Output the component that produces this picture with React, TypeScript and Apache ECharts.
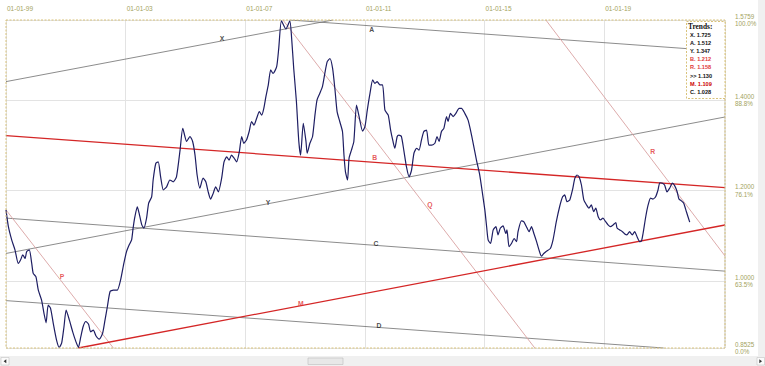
import React, { useEffect, useRef } from 'react';
import * as echarts from 'echarts';

const X_MIN = 1999;
const X_MAX = 2023.04;
const Y_MIN = 0.8525;
const Y_MAX = 1.5759;

const xTickYears = [1999, 2003, 2007, 2011, 2015, 2019];
const xTickLabels = ['01-01-99', '01-01-03', '01-01-07', '01-01-11', '01-01-15', '01-01-19'];
const yTickValues = [0.8525, 1.0, 1.2, 1.4, 1.5759];
const yTickPercents = ['0.0%', '63.5%', '76.1%', '88.8%', '100.0%'];

const pricePoints: number[][] = [
  [1999.00, 1.157], [1999.08, 1.120], [1999.19, 1.091], [1999.30, 1.069], [1999.41, 1.039],
  [1999.49, 1.047], [1999.56, 1.058], [1999.64, 1.050], [1999.69, 1.065], [1999.78, 1.069],
  [1999.86, 1.039], [1999.91, 1.017], [2000.00, 1.010], [2000.08, 0.980], [2000.19, 0.958],
  [2000.27, 0.929], [2000.34, 0.908], [2000.41, 0.947], [2000.49, 0.940], [2000.58, 0.907],
  [2000.69, 0.870], [2000.78, 0.854], [2000.86, 0.863], [2000.94, 0.900], [2001.01, 0.936],
  [2001.12, 0.914], [2001.23, 0.888], [2001.34, 0.866], [2001.42, 0.854], [2001.50, 0.877],
  [2001.58, 0.900], [2001.67, 0.911], [2001.76, 0.905], [2001.83, 0.888], [2001.92, 0.892],
  [2002.01, 0.879], [2002.12, 0.872], [2002.23, 0.885], [2002.31, 0.914], [2002.39, 0.944],
  [2002.48, 0.977], [2002.59, 0.980], [2002.72, 0.980], [2002.83, 1.002], [2002.94, 1.039],
  [2003.03, 1.065], [2003.12, 1.080], [2003.20, 1.091], [2003.25, 1.117], [2003.31, 1.142],
  [2003.39, 1.164], [2003.45, 1.150], [2003.54, 1.124], [2003.61, 1.117], [2003.70, 1.139],
  [2003.77, 1.172], [2003.87, 1.186], [2003.92, 1.223], [2004.01, 1.260], [2004.09, 1.263],
  [2004.17, 1.230], [2004.26, 1.201], [2004.37, 1.208], [2004.48, 1.223], [2004.59, 1.219],
  [2004.70, 1.230], [2004.82, 1.289], [2004.91, 1.337], [2005.04, 1.308], [2005.15, 1.319],
  [2005.24, 1.308], [2005.32, 1.278], [2005.39, 1.234], [2005.48, 1.205], [2005.59, 1.227],
  [2005.68, 1.219], [2005.76, 1.197], [2005.84, 1.181], [2005.93, 1.194], [2006.01, 1.208],
  [2006.10, 1.197], [2006.21, 1.227], [2006.29, 1.263], [2006.38, 1.274], [2006.46, 1.267],
  [2006.54, 1.278], [2006.63, 1.271], [2006.71, 1.263], [2006.80, 1.285], [2006.88, 1.319],
  [2006.95, 1.304], [2007.04, 1.311], [2007.13, 1.330], [2007.21, 1.352], [2007.29, 1.344],
  [2007.38, 1.359], [2007.47, 1.374], [2007.55, 1.366], [2007.62, 1.381], [2007.69, 1.407],
  [2007.77, 1.433], [2007.85, 1.466], [2007.93, 1.458], [2008.05, 1.473], [2008.12, 1.514],
  [2008.21, 1.574], [2008.36, 1.556], [2008.49, 1.574], [2008.55, 1.536], [2008.62, 1.469],
  [2008.71, 1.396], [2008.79, 1.308], [2008.85, 1.278], [2008.94, 1.348], [2009.03, 1.308],
  [2009.07, 1.282], [2009.16, 1.304], [2009.25, 1.319], [2009.33, 1.366], [2009.40, 1.400],
  [2009.49, 1.414], [2009.58, 1.429], [2009.66, 1.458], [2009.74, 1.484], [2009.83, 1.491],
  [2009.92, 1.469], [2010.00, 1.422], [2010.07, 1.374], [2010.16, 1.352], [2010.25, 1.330],
  [2010.30, 1.278], [2010.35, 1.241], [2010.42, 1.223], [2010.47, 1.271], [2010.55, 1.289],
  [2010.63, 1.308], [2010.72, 1.388], [2010.83, 1.355], [2010.92, 1.331], [2011.00, 1.340],
  [2011.08, 1.377], [2011.17, 1.414], [2011.26, 1.444], [2011.33, 1.436], [2011.41, 1.440],
  [2011.50, 1.433], [2011.59, 1.433], [2011.67, 1.377], [2011.78, 1.366], [2011.86, 1.333],
  [2011.94, 1.308], [2012.00, 1.293], [2012.08, 1.319], [2012.14, 1.322], [2012.22, 1.319],
  [2012.30, 1.289], [2012.39, 1.252], [2012.48, 1.230], [2012.56, 1.245], [2012.64, 1.282],
  [2012.73, 1.293], [2012.81, 1.289], [2012.89, 1.311], [2012.97, 1.330], [2013.06, 1.333],
  [2013.14, 1.300], [2013.23, 1.300], [2013.34, 1.304], [2013.41, 1.319], [2013.48, 1.308],
  [2013.56, 1.330], [2013.64, 1.337], [2013.73, 1.363], [2013.78, 1.352], [2013.86, 1.370],
  [2013.95, 1.363], [2014.04, 1.370], [2014.15, 1.381], [2014.23, 1.381], [2014.34, 1.370],
  [2014.45, 1.355], [2014.53, 1.333], [2014.62, 1.304], [2014.73, 1.267], [2014.84, 1.234],
  [2014.93, 1.194], [2015.01, 1.157], [2015.07, 1.120], [2015.12, 1.091], [2015.20, 1.083],
  [2015.29, 1.113], [2015.38, 1.120], [2015.45, 1.102], [2015.53, 1.117], [2015.62, 1.122],
  [2015.71, 1.105], [2015.75, 1.113], [2015.82, 1.076], [2015.90, 1.083], [2015.99, 1.094],
  [2016.07, 1.087], [2016.12, 1.109], [2016.23, 1.133], [2016.31, 1.131], [2016.40, 1.120],
  [2016.49, 1.109], [2016.57, 1.120], [2016.65, 1.105], [2016.74, 1.087], [2016.82, 1.069],
  [2016.90, 1.055], [2016.98, 1.061], [2017.07, 1.066], [2017.20, 1.072], [2017.29, 1.091],
  [2017.40, 1.131], [2017.51, 1.164], [2017.61, 1.186], [2017.68, 1.190], [2017.76, 1.175],
  [2017.85, 1.179], [2017.94, 1.201], [2018.02, 1.227], [2018.09, 1.234], [2018.16, 1.230],
  [2018.24, 1.212], [2018.32, 1.179], [2018.41, 1.168], [2018.49, 1.161], [2018.57, 1.168],
  [2018.65, 1.153], [2018.72, 1.161], [2018.80, 1.142], [2018.88, 1.135], [2018.96, 1.139],
  [2019.05, 1.131], [2019.13, 1.124], [2019.21, 1.120], [2019.30, 1.124], [2019.39, 1.129],
  [2019.43, 1.117], [2019.52, 1.113], [2019.61, 1.109], [2019.69, 1.104], [2019.76, 1.102],
  [2019.85, 1.109], [2019.94, 1.102], [2020.02, 1.109], [2020.10, 1.098], [2020.19, 1.087],
  [2020.25, 1.089], [2020.30, 1.105], [2020.39, 1.142], [2020.47, 1.168], [2020.55, 1.183],
  [2020.63, 1.181], [2020.72, 1.186], [2020.80, 1.201], [2020.86, 1.217], [2020.95, 1.216],
  [2021.02, 1.212], [2021.10, 1.197], [2021.19, 1.205], [2021.28, 1.216], [2021.36, 1.210],
  [2021.44, 1.197], [2021.50, 1.181], [2021.58, 1.177], [2021.66, 1.172], [2021.75, 1.153],
  [2021.86, 1.130],
];

// trend lines: two end points each [year, value]
const trendX = [[1999.0, 1.440], [2009.93, 1.5759]];
const trendA = [[2008.49, 1.5759], [2023.04, 1.5067]];
const trendY = [[1999.0, 1.061], [2023.04, 1.362]];
const trendB = [[1999.0, 1.321], [2023.04, 1.206]];
const trendC = [[1999.0, 1.139], [2023.04, 1.022]];
const trendD = [[1999.0, 0.957], [2020.99, 0.8525]];
const trendM = [[2001.42, 0.8525], [2023.04, 1.1238]];
const trendP = [[1999.0, 1.157], [2002.59, 0.8525]];
const trendQ = [[2008.26, 1.5759], [2016.68, 0.8525]];
const trendR = [[2017.05, 1.5759], [2023.04, 1.0555]];

const lineLabelNames = ['X', 'A', 'Y', 'B', 'Q', 'R', 'C', 'M', 'D', 'P'];
const lineLabelPoints = [
  [2006.22, 1.536], [2011.23, 1.554], [2007.76, 1.174], [2011.33, 1.272], [2013.17, 1.168],
  [2020.62, 1.285], [2011.37, 1.084], [2008.86, 0.950], [2011.47, 0.903], [2000.87, 1.011],
];

const legendNames = ['X.', 'A.', 'Y.', 'B.', 'R.', '>>', 'M.', 'C.'];
const legendValues = [1.725, 1.512, 1.347, 1.212, 1.158, 1.130, 1.109, 1.028];

const GRAY = '#6f6f6f';
const RED = '#d42626';
const PINK = '#d9a2a2';
const OLIVE = '#a3a35e';
const BORDER = '#d8c27a';

export default function App() {
  const ref = useRef<HTMLDivElement>(null);
  useEffect(() => {
    if (!ref.current) return;
    const chart = echarts.init(ref.current, undefined, { renderer: 'svg' });

    const trendSeries = (data: number[][], color: string, width: number) => ({
      type: 'line',
      data,
      symbol: 'none',
      silent: true,
      lineStyle: { color, width },
      z: 2,
    });

    const redLabel = new Set(['B', 'Q', 'R', 'M', 'P']);
    const legendRed: Record<string, string> = { 'B.': '#e03a3a', 'R.': '#e03a3a', 'M.': '#cc0000' };

    const legendTexts: any[] = legendNames.map((n, i) => ({
      type: 'text',
      left: 690,
      top: 31.5 + i * 8.2,
      style: {
        text: `${n} ${legendValues[i].toFixed(3)}`,
        font: 'bold 5.6px "Liberation Sans", Arial, sans-serif',
        fill: legendRed[n] || '#111',
      },
      z: 11,
    }));

    chart.setOption({
      animation: false,
      backgroundColor: '#ffffff',
      grid: { left: 6, right: 40, top: 20, bottom: 18, containLabel: false },
      xAxis: {
        type: 'value',
        position: 'top',
        min: X_MIN,
        max: X_MAX,
        interval: 4,
        axisLine: { show: false },
        axisTick: { show: false },
        splitLine: { show: true, lineStyle: { color: '#e3e3e3', width: 1 } },
        axisLabel: {
          show: true,
          color: OLIVE,
          fontSize: 6.5,
          fontFamily: '"Liberation Sans", Arial, sans-serif',
          align: 'left',
          verticalAlign: 'middle',
          margin: 12,
          padding: [0, 0, 0, 1],
          showMaxLabel: false,
          formatter: (v: number) => {
            const i = xTickYears.findIndex((y) => Math.abs(y - v) < 1e-6);
            return i >= 0 ? xTickLabels[i] : '';
          },
        },
      },
      yAxis: {
        type: 'value',
        position: 'right',
        min: Y_MIN,
        max: Y_MAX,
        axisLine: { show: false },
        axisTick: { show: false, customValues: yTickValues },
        splitLine: { show: true, lineStyle: { color: '#e3e3e3', width: 1 } },
        axisLabel: {
          customValues: yTickValues,
          color: OLIVE,
          fontSize: 6.3,
          lineHeight: 7.5,
          fontFamily: '"Liberation Sans", Arial, sans-serif',
          align: 'left',
          verticalAlign: 'middle',
          margin: 10,
          formatter: (v: number) => {
            const i = yTickValues.findIndex((y) => Math.abs(y - v) < 1e-6);
            return i >= 0 ? `${yTickValues[i].toFixed(4)}\n${yTickPercents[i]}` : '';
          },
        },
      },
      series: [
        trendSeries(trendX, GRAY, 0.8),
        trendSeries(trendA, GRAY, 0.8),
        trendSeries(trendY, GRAY, 0.8),
        trendSeries(trendC, GRAY, 0.8),
        trendSeries(trendD, GRAY, 0.8),
        trendSeries(trendP, PINK, 0.9),
        trendSeries(trendQ, PINK, 0.9),
        trendSeries(trendR, PINK, 0.9),
        trendSeries(trendB, RED, 1.3),
        trendSeries(trendM, RED, 1.3),
        {
          type: 'line',
          data: pricePoints,
          symbol: 'none',
          smooth: 0.2,
          silent: true,
          lineStyle: { color: '#1e1e63', width: 1.2 },
          z: 3,
        },
        {
          type: 'scatter',
          symbolSize: 0,
          silent: true,
          z: 4,
          data: lineLabelPoints.map((p, i) => ({
            value: p,
            name: lineLabelNames[i],
            label: { color: redLabel.has(lineLabelNames[i]) ? '#e03030' : '#222' },
          })),
          label: {
            show: true,
            position: 'inside',
            formatter: (p: any) => p.name,
            fontSize: 6.8,
            fontWeight: 'bold',
            fontFamily: '"Liberation Sans", Arial, sans-serif',
          },
        },
      ],
      graphic: [
        { type: 'rect', shape: { x: 758, y: 0, width: 7, height: 356 }, style: { fill: '#f0f0f0' }, z: 1 },
        { type: 'rect', shape: { x: 0, y: 356, width: 765, height: 10 }, style: { fill: '#f0f0f0' }, z: 1 },
        { type: 'rect', shape: { x: 1, y: 357.5, width: 8, height: 7.5 }, style: { fill: '#fbfbfb', stroke: '#c4c4c4', lineWidth: 0.6 }, z: 2 },
        { type: 'polygon', shape: { points: [[6.3, 359.3], [6.3, 363.3], [3.6, 361.3]] }, style: { fill: '#333' }, z: 3 },
        { type: 'rect', shape: { x: 757, y: 357.5, width: 7.5, height: 7.5 }, style: { fill: '#fbfbfb', stroke: '#c4c4c4', lineWidth: 0.6 }, z: 2 },
        { type: 'polygon', shape: { points: [[759.3, 359.3], [759.3, 363.3], [762, 361.3]] }, style: { fill: '#333' }, z: 3 },
        { type: 'rect', shape: { x: 308, y: 358, width: 35, height: 6.5 }, style: { fill: '#e8e8e8', stroke: '#bdbdbd', lineWidth: 0.6 }, z: 2 },
        {
          type: 'rect',
          shape: { x: 6, y: 20, width: 719, height: 328 },
          style: { fill: 'none', stroke: BORDER, lineWidth: 1, lineDash: [2, 1.5] },
          silent: true,
          z: 9,
        },
        {
          type: 'rect',
          shape: { x: 686.5, y: 21.5, width: 38.5, height: 77 },
          style: { fill: '#ffffff', stroke: BORDER, lineWidth: 1, lineDash: [2, 1.5] },
          z: 10,
        },
        {
          type: 'text',
          left: 688,
          top: 22.5,
          style: {
            text: 'Trends:',
            font: 'bold 7.4px "Liberation Serif", "Times New Roman", serif',
            fill: '#111',
          },
          z: 11,
        },
        ...legendTexts,
      ],
    });
    return () => chart.dispose();
  }, []);
  return (
    <div
      ref={ref}
      style={{ position: 'absolute', left: 0, top: 0, width: 765, height: 366, background: '#fff' }}
    />
  );
}
